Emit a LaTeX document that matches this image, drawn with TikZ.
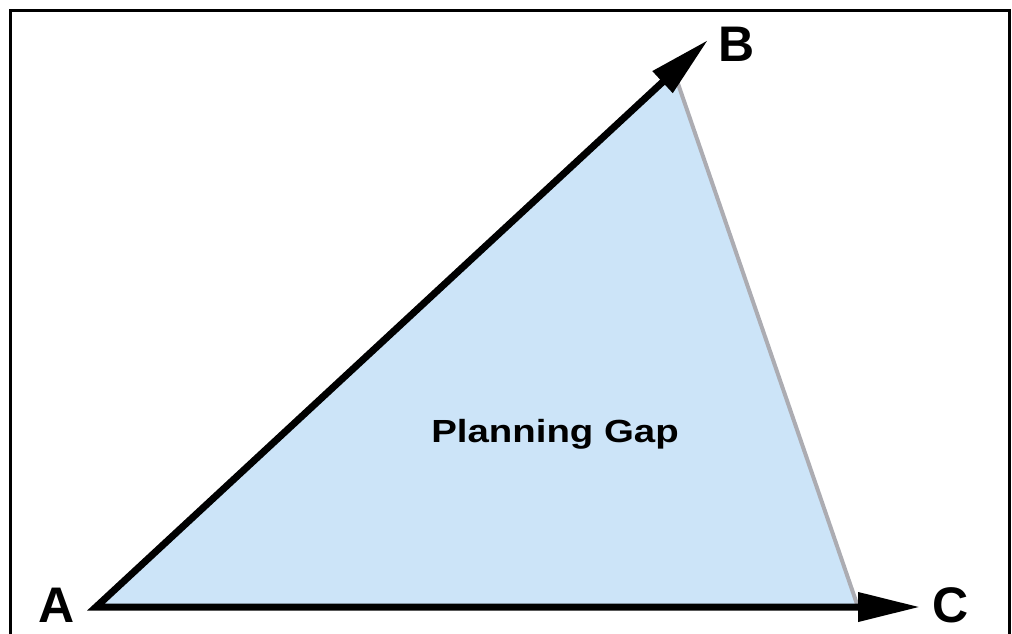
\documentclass[tikz,border=0pt]{standalone}
\usepackage{fontspec}
\setmainfont{Liberation Sans}
\usetikzlibrary{arrows.meta}
\definecolor{GapBlue}{RGB}{204,228,248}
\definecolor{SideGray}{RGB}{172,172,178}
\tikzset{
    frameline/.style={line width=3pt, black},
    gapfill/.style={fill=GapBlue, draw=none},
    sideline/.style={line width=4pt, SideGray},
    vecarrow/.style={{Triangle[length=62pt, width=28pt]}-{Triangle[length=62pt, width=28pt]}, line width=7pt, black, miter limit=10},
    cornerlabel/.style={font=\bfseries\fontsize{50}{50}\selectfont, inner sep=0pt, anchor=base},
    gaplabel/.style={font=\bfseries\fontsize{32}{32}\selectfont, inner sep=0pt, anchor=base},
}
\begin{document}
\begin{tikzpicture}[x=1pt, y=-1pt]
\useasboundingbox (0,0) rectangle (1012,634);
\coordinate (a) at (96,607);
\coordinate (b) at (708,40);
\coordinate (c) at (920,607);
\coordinate (bfoot) at (674,72);
\coordinate (cfoot) at (858,607);

\node[cornerlabel] (labA) at (57,622) {A};
\node[cornerlabel] (labB) at (737,62) {B};
\node[cornerlabel] (labC) at (951,622) {C};

\fill[gapfill] (a) -- (bfoot) -- (cfoot) -- cycle;
\node[gaplabel] (gap) at (555,442) {\scalebox{1.2}[1]{Planning Gap}};

\draw[sideline] (bfoot) -- (cfoot);
\draw[vecarrow] (b) -- (a) -- (c);

\draw[frameline] (10.5,640) -- (10.5,10.5) -- (1009,10.5) -- (1009,640);
\end{tikzpicture}
\end{document}
